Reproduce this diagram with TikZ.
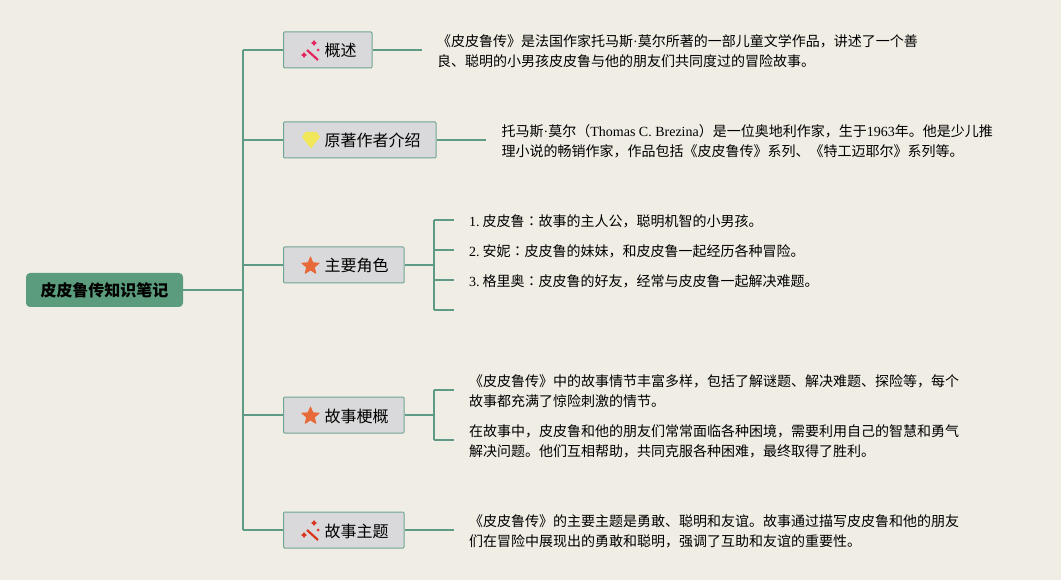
\documentclass[tikz,border=0pt]{standalone}
\usepackage{fontspec}
\setmainfont{Liberation Serif}
\newfontfamily\cjk{Noto Sans CJK SC}
\newfontfamily\cjktc{Noto Sans CJK TC}
\newcommand{\lat}[1]{{\rmfamily #1}}
\newcommand{\cmark}{{\cjktc：}}
\usetikzlibrary{shapes.geometric}
\usetikzlibrary{positioning}
\definecolor{paper}{HTML}{F0EDE4}
\definecolor{linecol}{HTML}{5F9A86}
\definecolor{rootcol}{HTML}{5A9C7C}
\definecolor{topiccol}{HTML}{D9D9DB}
\definecolor{topicedge}{HTML}{6FA596}
\definecolor{starcol}{HTML}{E8693A}
\definecolor{gemcol}{HTML}{F2E65A}
\definecolor{wandpink}{HTML}{E4265F}
\definecolor{wandred}{HTML}{D9361F}

\begin{document}
\begin{tikzpicture}[x=1pt,y=-1pt,
	rootbox/.style={draw=none,fill=rootcol,rounded corners=4pt,minimum width=157pt,minimum height=34pt,
		inner sep=0pt,font=\cjk\bfseries\fontsize{16}{20}\selectfont},
	topicbox/.style={draw=topicedge,line width=1pt,fill=topiccol,rounded corners=1pt,minimum height=36pt,
		inner xsep=15.5pt,inner ysep=0pt,text height=15pt,text depth=1pt,anchor=west,
		font=\cjk\fontsize{16}{20}\selectfont},
	body/.style={anchor=west,align=left,inner sep=0pt,font=\cjk\fontsize{14}{20}\selectfont},
	link/.style={draw=linecol,line width=1.5pt},
	starmark/.style={star,star points=5,star point ratio=2.3,fill=starcol,draw=starcol,line join=round,
		line width=1pt,inner sep=0pt,minimum size=18pt},
	wandmark/.pic={
		\draw[pic actions,line width=2.2pt] (-4,0) -- (7,10);
		\fill[pic actions] (3,-10) -- (4.2,-8.2) -- (6,-7) -- (4.2,-5.8) -- (3,-4) -- (1.8,-5.8) -- (0,-7) -- (1.8,-8.2) -- cycle;
		\fill[pic actions] (-7,2) -- (-5.8,3.8) -- (-4,5) -- (-5.8,6.2) -- (-7,8) -- (-8.2,6.2) -- (-10,5) -- (-8.2,3.8) -- cycle;
		\fill[pic actions] (7,-1.5) -- (8.5,0) -- (7,1.5) -- (5.5,0) -- cycle;
	},
	gemmark/.pic={
		\fill[gemcol] (-5.5,-8) -- (5.5,-8) -- (9,-3) -- (0,8.5) -- (-9,-3) -- cycle;
	}]
	\useasboundingbox[fill=paper] (0,0) rectangle (1061,580);

	% main nodes
	\node[rootbox] (root) at (104.5,290) {皮皮鲁传知识笔记};
	\node[topicbox] (gaishu) at (283,50) {\hspace*{25.5pt}概述};
	\node[topicbox] (zuozhe) at (283,140) {\hspace*{25.5pt}原著作者介绍};
	\node[topicbox] (juese) at (283,265) {\hspace*{25.5pt}主要角色};
	\node[topicbox] (gengai) at (283,415) {\hspace*{25.5pt}故事梗概};
	\node[topicbox] (zhuti) at (283,530) {\hspace*{25.5pt}故事主题};

	% icons
	\pic[color=wandpink] at (311,50) {wandmark};
	\pic at (311,140) {gemmark};
	\node[starmark] (star1) at (310.5,266) {};
	\node[starmark] (star2) at (310.5,416) {};
	\pic[color=wandred] at (311,530) {wandmark};

	% texts
	\node[body] (gaishutext) at (437,51) {《皮皮鲁传》是法国作家托马斯\lat{·}莫尔所著的一部儿童文学作品，讲述了一个善\\良、聪明的小男孩皮皮鲁与他的朋友们共同度过的冒险故事。};
	\node[body] (zuozhetext) at (501.5,141) {托马斯\lat{·}莫尔（\lat{Thomas C. Brezina}）是一位奥地利作家，生于\lat{1963}年。他是少儿推\\理小说的畅销作家，作品包括《皮皮鲁传》系列、《特工迈耶尔》系列等。};
	\node[body] (item1) at (469,221) {\lat{1.}\hspace{3pt}皮皮鲁\cmark 故事的主人公，聪明机智的小男孩。};
	\node[body] (item2) at (469,251) {\lat{2.}\hspace{3pt}安妮\cmark 皮皮鲁的妹妹，和皮皮鲁一起经历各种冒险。};
	\node[body] (item3) at (469,281) {\lat{3.}\hspace{3pt}格里奥\cmark 皮皮鲁的好友，经常与皮皮鲁一起解决难题。};
	\node[body] (plot1) at (469,391) {《皮皮鲁传》中的故事情节丰富多样，包括了解谜题、解决难题、探险等，每个\\故事都充满了惊险刺激的情节。};
	\node[body] (plot2) at (469,441) {在故事中，皮皮鲁和他的朋友们常常面临各种困境，需要利用自己的智慧和勇气\\解决问题。他们互相帮助，共同克服各种困难，最终取得了胜利。};
	\node[body] (zhutitext) at (469,531) {《皮皮鲁传》的主要主题是勇敢、聪明和友谊。故事通过描写皮皮鲁和他的朋友\\们在冒险中展现出的勇敢和聪明，强调了互助和友谊的重要性。};

	% free ends
	\coordinate (trunktop) at (243,50);
	\coordinate (trunkbot) at (243,530);
	\coordinate (gaishuend) at (422,50);
	\coordinate (zuozheend) at (486,140);
	\coordinate (zhutiend) at (454,530);
	\coordinate (jueseup) at (434,220);
	\coordinate (jueselow) at (434,310);
	\coordinate (gengaiup) at (434,390);
	\coordinate (gengailow) at (434,440);

	% connectors
	\draw[link] (trunktop) -- (trunkbot);
	\draw[link] (root.east) -- (trunktop |- root.east);
	\foreach \t in {gaishu,zuozhe,juese,gengai,zhuti}
		\draw[link] (trunktop |- \t.west) -- (\t.west);
	\draw[link] (gaishu.east) -- (gaishuend);
	\draw[link] (zuozhe.east) -- (zuozheend);
	\draw[link] (zhuti.east) -- (zhutiend);
	\draw[link] (juese.east) -- (jueseup |- juese.east);
	\draw[link] (gengai.east) -- (gengaiup |- gengai.east);
	\draw[link] (jueseup) -- (jueselow);
	\draw[link] (gengaiup) -- (gengailow);
	\foreach \y in {220,250,280,310}
		\draw[link] (434,\y) -- (454,\y);
	\foreach \y in {390,440}
		\draw[link] (434,\y) -- (454,\y);
\end{tikzpicture}
\end{document}
